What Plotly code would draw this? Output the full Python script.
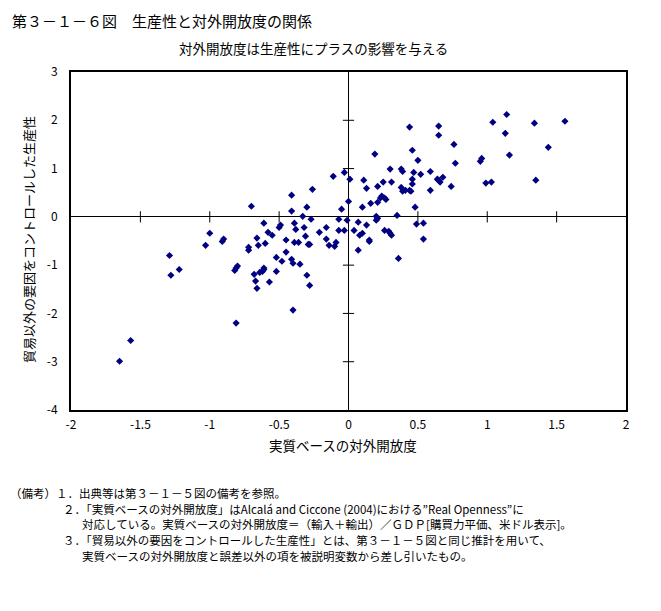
import plotly.graph_objects as go

# ---- data ----
openness = [
    -1.65, -1.57, -1.29, -1.28, -1.22, -1.03, -1.00, -0.91, -0.90, -0.82,
    -0.81, -0.80, -0.81, -0.72, -0.72, -0.70, -0.68, -0.67, -0.66, -0.66,
    -0.65, -0.64, -0.62, -0.61, -0.61, -0.61, -0.60, -0.58, -0.57, -0.55,
    -0.52, -0.52, -0.50, -0.49, -0.48, -0.45, -0.45, -0.41, -0.41, -0.41,
    -0.40, -0.40, -0.39, -0.39, -0.36, -0.38, -0.35, -0.33, -0.32, -0.31,
    -0.30, -0.30, -0.29, -0.28, -0.28, -0.27, -0.26, -0.21, -0.16, -0.16,
    -0.14, -0.11, -0.10, -0.09, -0.07, -0.07, -0.05, -0.03, -0.03, -0.01,
    0.00, 0.01, 0.04, 0.07, 0.08, 0.07, 0.10, 0.13, 0.15, 0.15,
    0.10, 0.11, 0.13, 0.16, 0.19, 0.21, 0.21, 0.20, 0.21, 0.20,
    0.23, 0.24, 0.26, 0.27, 0.25, 0.26, 0.29, 0.30, 0.31, 0.30,
    0.31, 0.35, 0.36, 0.38, 0.39, 0.38, 0.39, 0.41, 0.44, 0.45,
    0.44, 0.46, 0.46, 0.46, 0.47, 0.48, 0.49, 0.50, 0.52, 0.54,
    0.54, 0.59, 0.59, 0.64, 0.65, 0.66, 0.65, 0.65, 0.68, 0.74,
    0.76, 0.77, 0.95, 0.96, 0.99, 1.03, 1.04, 1.13, 1.14, 1.16,
    1.34, 1.35, 1.44, 1.56,
]
productivity = [
    -2.99, -2.56, -0.80, -1.21, -1.09, -0.59, -0.34, -0.51, -0.46, -1.11,
    -1.06, -1.02, -2.20, -0.63, -0.69, 0.22, -1.19, -1.33, -1.48, -0.44,
    -0.59, -1.15, -1.13, -1.09, -1.06, -0.13, -0.55, -0.32, -1.35, -0.38,
    -0.84, -1.13, -0.22, -0.17, -0.92, -0.48, -0.73, 0.45, 0.12, -0.88,
    -0.96, -1.93, -0.13, -0.53, -0.53, -0.26, -0.98, 0.01, -0.22, -0.40,
    0.20, -1.21, -0.57, -0.57, -1.42, -0.05, 0.57, -0.32, -0.22, -0.46,
    -0.59, 0.84, -0.61, -0.53, -0.05, -0.28, 0.16, 0.92, -0.28, -0.07,
    0.32, 0.78, -0.28, -0.11, -0.38, -0.69, -0.34, -0.17, -0.48, -0.51,
    0.20, 0.76, 0.59, 0.28, 1.30, 0.63, 0.30, 0.01, -0.03, -0.07,
    0.39, 0.43, 0.39, 0.36, 0.72, -0.28, -0.30, -0.34, -0.38, 0.99,
    0.72, 0.03, -0.86, 0.99, 0.94, 0.61, 0.53, 0.55, 0.55, 0.53,
    1.86, 1.38, 0.78, 0.68, 0.92, 0.20, -0.15, 1.17, 0.88, -0.13,
    -0.46, 0.94, 0.55, 0.78, 0.76, 0.72, 1.88, 1.69, 0.82, 0.63,
    1.50, 1.11, 1.15, 1.21, 0.70, 0.72, 1.96, 1.73, 2.12, 1.28,
    1.94, 0.76, 1.44, 1.98,
]

x_ticks = [-2, -1.5, -1, -0.5, 0, 0.5, 1, 1.5, 2]
x_tick_labels = ["-2", "-1.5", "-1", "-0.5", "0", "0.5", "1", "1.5", "2"]
y_ticks = [-4, -3, -2, -1, 0, 1, 2, 3]
y_tick_labels = ["-4", "-3", "-2", "-1", "0", "1", "2", "3"]

title = "第３－１－６図　生産性と対外開放度の関係"
subtitle = "対外開放度は生産性にプラスの影響を与える"
x_title = "実質ベースの対外開放度"
y_title = "貿易以外の要因をコントロールした生産性"
notes = [
    ("（備考）１．出典等は第３－１－５図の備考を参照。", 8, 493),
    ("２．「実質ベースの対外開放度」はAlcalá and Ciccone (2004)における\u201dReal Openness\u201dに", 61, 509),
    ("対応している。実質ベースの対外開放度＝（輸入＋輸出）／ＧＤＰ[購買力平価、米ドル表示]。", 80, 524),
    ("３．「貿易以外の要因をコントロールした生産性」とは、第３－１－５図と同じ推計を用いて、", 61, 540),
    ("実質ベースの対外開放度と誤差以外の項を被説明変数から差し引いたもの。", 80, 556),
]

FONT = "Noto Sans CJK JP"
OFF = 8                      # page body margin of the browser
W, H = 661 - OFF, 611 - OFF
ML, MR, MT, MB = 71 - OFF, 35, 72 - OFF, 201
PW, PH = W - ML - MR, H - MT - MB


def px(xp):
    return (xp - OFF - ML) / PW


def py(yp):
    return (H - MB - (yp - OFF)) / PH


fig = go.Figure()

# crossing tick marks on the zero lines
xt_inner = [v for v in x_ticks if v not in (x_ticks[0], 0, x_ticks[-1])]
yt_inner = [v for v in y_ticks if v not in (y_ticks[0], 0, y_ticks[-1])]
fig.add_trace(go.Scatter(
    x=xt_inner, y=[0] * len(xt_inner), mode="markers",
    marker=dict(symbol="line-ns", size=8, line=dict(color="black", width=1)),
    hoverinfo="skip", showlegend=False, cliponaxis=False))
fig.add_trace(go.Scatter(
    x=[0] * len(yt_inner), y=yt_inner, mode="markers",
    marker=dict(symbol="line-ew", size=8, line=dict(color="black", width=1)),
    hoverinfo="skip", showlegend=False, cliponaxis=False))

fig.add_trace(go.Scatter(
    x=openness, y=productivity, mode="markers",
    marker=dict(symbol="diamond", size=5.5, color="#000080"),
    showlegend=False))

fig.update_xaxes(
    range=[-2, 2], tickvals=x_ticks, ticktext=x_tick_labels,
    showline=True, mirror=True, linecolor="black", linewidth=2,
    showgrid=False, zeroline=True, zerolinecolor="black", zerolinewidth=1,
    ticks="", ticklabelstandoff=3,
    tickfont=dict(family=FONT, size=12, color="black"))
fig.update_yaxes(
    range=[-4, 3], tickvals=y_ticks, ticktext=y_tick_labels,
    showline=True, mirror=True, linecolor="black", linewidth=2,
    showgrid=False, zeroline=True, zerolinecolor="black", zerolinewidth=1,
    ticks="", ticklabelstandoff=9,
    tickfont=dict(family=FONT, size=12, color="black"))

ann = [
    dict(text=title, x=px(10), y=py(OFF), xanchor="left", yanchor="top",
         font=dict(family=FONT, size=15, color="black")),
    dict(text=subtitle, x=px(313), y=py(48), xanchor="center", yanchor="middle",
         font=dict(family=FONT, size=13.5, color="black")),
    dict(text=x_title, x=px(343), y=py(445), xanchor="center", yanchor="middle",
         font=dict(family=FONT, size=13.5, color="black")),
    dict(text=y_title, x=px(28), y=py(240), xanchor="center", yanchor="middle",
         textangle=-90, font=dict(family=FONT, size=13, color="black")),
]
for txt, xx, yy in notes:
    ann.append(dict(text=txt, x=px(xx), y=py(yy), xanchor="left", yanchor="middle",
                    font=dict(family=FONT, size=11.5, color="black")))
for a in ann:
    a.update(xref="paper", yref="paper", showarrow=False)

fig.update_layout(
    width=W, height=H, margin=dict(l=ML, r=MR, t=MT, b=MB),
    paper_bgcolor="white", plot_bgcolor="white", annotations=ann)

fig.write_html("out.html")
